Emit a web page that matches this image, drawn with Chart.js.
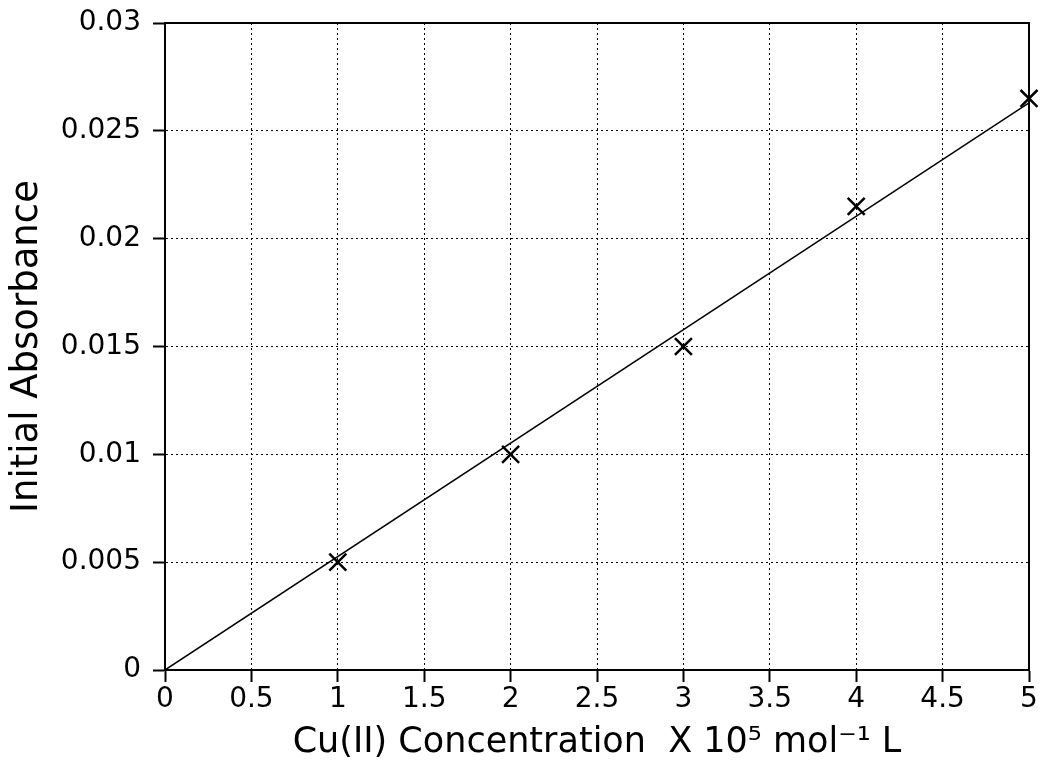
<!DOCTYPE html>
<html lang="en">
<head>
    <meta charset="UTF-8">
    <title>Initial Absorbance vs Cu(II) Concentration</title>
    <style>
        html, body {
            margin: 0;
            background-color: #fff;
            overflow: hidden;
        }
        #wrap {
            width: 1040px;
            height: 766px;
        }
        canvas {
            display: block;
        }
    </style>
    <script src="https://cdn.jsdelivr.net/npm/chart.js"></script>
</head>
<body>
    <div id="wrap"><canvas id="absChart"></canvas></div>

    <script>
        // measured points (x = concentration x 10^5 mol/L, y = initial absorbance)
        const concentrations = [1, 2, 3, 4, 5];
        const absorbances = [0.005, 0.010, 0.015, 0.0215, 0.0265];

        // least squares line, drawn through these two end points
        const fitX = [0, 5];
        const fitY = [0, 0.0263];

        const xTicks = [0, 0.5, 1, 1.5, 2, 2.5, 3, 3.5, 4, 4.5, 5];
        const yTicks = [0, 0.005, 0.01, 0.015, 0.02, 0.025, 0.03];

        const fontFamily = "'DejaVu Sans', sans-serif";

        // draw the closed frame around the plot area
        const frame = {
            id: 'frame',
            afterDatasetsDraw(chart) {
                const { ctx, chartArea } = chart;
                ctx.save();
                ctx.strokeStyle = '#000';
                ctx.lineWidth = 2;
                ctx.strokeRect(chartArea.left, chartArea.top,
                    chartArea.right - chartArea.left, chartArea.bottom - chartArea.top);
                ctx.restore();
            }
        };

        const axisCommon = {
            type: 'linear',
            border: { display: true, color: '#000', width: 2, dash: [2, 3] },
            grid: {
                color: '#000',
                lineWidth: 1,
                tickLength: 12,
                tickColor: '#000',
                tickWidth: 2,
                tickBorderDash: []
            }
        };

        new Chart(document.getElementById('absChart').getContext('2d'), {
            type: 'scatter',
            data: {
                datasets: [
                    {
                        type: 'line',
                        label: 'fit',
                        data: fitX.map((x, i) => ({ x: x, y: fitY[i] })),
                        borderColor: '#000',
                        borderWidth: 1.5,
                        pointRadius: 0,
                        fill: false
                    },
                    {
                        label: 'data',
                        data: concentrations.map((x, i) => ({ x: x, y: absorbances[i] })),
                        pointStyle: 'crossRot',
                        pointRadius: 12,
                        borderColor: '#000',
                        borderWidth: 2.5,
                        clip: false
                    }
                ]
            },
            options: {
                responsive: true,
                maintainAspectRatio: false,
                animation: false,
                layout: {
                    autoPadding: false,
                    padding: { top: 23, right: 11, left: 0, bottom: 0 }
                },
                plugins: {
                    legend: { display: false },
                    tooltip: { enabled: false }
                },
                scales: {
                    x: {
                        ...axisCommon,
                        min: 0,
                        max: 5,
                        afterBuildTicks: (scale) => { scale.ticks = xTicks.map(v => ({ value: v })); },
                        afterFit: (scale) => {
                            scale.height = 96;
                            scale.paddingLeft = 0;
                            scale.paddingRight = 0;
                        },
                        ticks: {
                            color: '#000',
                            padding: 1,
                            font: { family: fontFamily, size: 28 },
                            maxRotation: 0,
                            callback: (v) => String(v)
                        },
                        title: {
                            display: true,
                            text: 'Cu(II) Concentration  X 10\u2075 mol\u207B\u00B9 L',
                            color: '#000',
                            font: { family: fontFamily, size: 35 },
                            padding: { top: 0, bottom: 2 }
                        }
                    },
                    y: {
                        ...axisCommon,
                        min: 0,
                        max: 0.03,
                        afterBuildTicks: (scale) => { scale.ticks = yTicks.map(v => ({ value: v })); },
                        afterFit: (scale) => {
                            scale.width = 165;
                            scale.paddingTop = 0;
                            scale.paddingBottom = 0;
                        },
                        ticks: {
                            color: '#000',
                            padding: 12,
                            font: { family: fontFamily, size: 28 },
                            callback: (v) => String(v)
                        },
                        title: {
                            display: true,
                            text: 'Initial Absorbance',
                            color: '#000',
                            font: { family: fontFamily, size: 37 },
                            padding: { top: 5, bottom: 0 }
                        }
                    }
                }
            },
            plugins: [frame]
        });
    </script>
</body>
</html>
